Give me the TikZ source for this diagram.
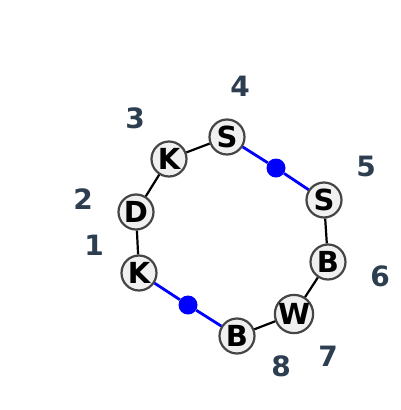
\documentclass[tikz,border=0pt]{standalone}
\usepackage{fontspec}
\setmainfont{DejaVu Sans}
\begin{document}
\begin{tikzpicture}[x=1pt,y=-1pt,
  res/.style={circle,draw=black!73,fill=black!6,line width=2.2pt,minimum size=35pt,inner sep=0pt,font=\fontsize{29}{29}\selectfont\bfseries},
  bond/.style={line width=2.2pt,black},
  link/.style={line width=2.8pt,blue},
  dot/.style={circle,fill=blue,inner sep=0pt,minimum size=19pt},
  num/.style={text=lab,font=\fontsize{28}{28}\selectfont\bfseries}]
\definecolor{lab}{HTML}{2C3E50}
\useasboundingbox (0,0) rectangle (400,410);
\node[res] (n1) at (139,273) {K};
\node[res] (n2) at (136,212) {D};
\node[res] (n3) at (169,159) {K};
\node[res] (n4) at (227,137) {S};
\node[res] (n5) at (324,200) {S};
\node[res] (n6) at (328,262) {B};
\node[res] (n7) at (294,314) {W};
\node[res] (n8) at (237,336) {B};
\node[dot] (d1) at (276,168) {};
\node[dot] (d2) at (188,305) {};
\node[num] (l1) at (94,245) {1};
\node[num] (l2) at (83,199) {2};
\node[num] (l3) at (135,118) {3};
\node[num] (l4) at (240,86) {4};
\node[num] (l5) at (366,166) {5};
\node[num] (l6) at (380,276) {6};
\node[num] (l7) at (328,356) {7};
\node[num] (l8) at (281,366) {8};
\draw[bond] (n1) -- (n2);
\draw[bond] (n2) -- (n3);
\draw[bond] (n3) -- (n4);
\draw[bond] (n5) -- (n6);
\draw[bond] (n6) -- (n7);
\draw[bond] (n7) -- (n8);
\draw[link] (n4) -- (d1) -- (n5);
\draw[link] (n1) -- (d2) -- (n8);
\end{tikzpicture}
\end{document}
